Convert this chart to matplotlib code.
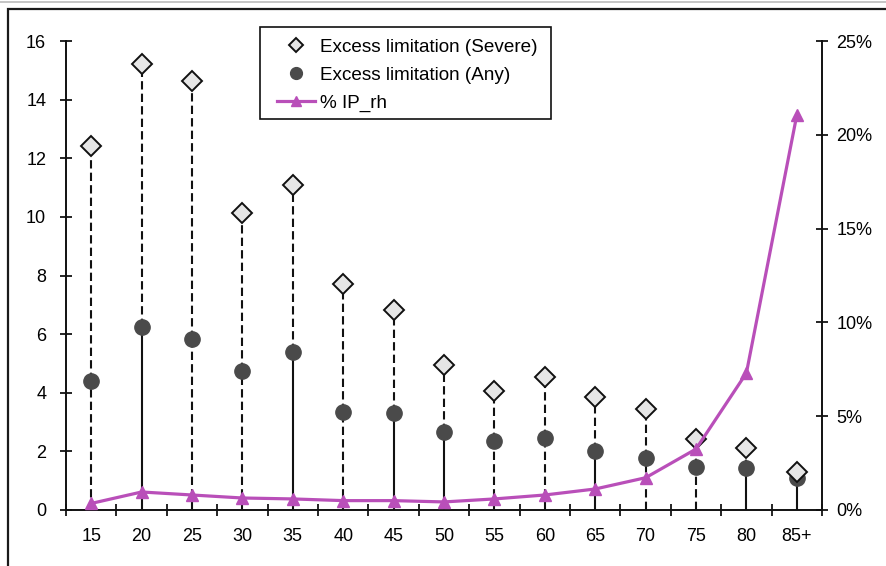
import matplotlib
matplotlib.use('Agg')
import matplotlib.pyplot as plt
from matplotlib.lines import Line2D
from matplotlib.patches import Rectangle
from matplotlib.ticker import FuncFormatter, MultipleLocator
import numpy as np

plt.rcParams['font.family'] = ['Liberation Sans', 'DejaVu Sans']

ages = ['15', '20', '25', '30', '35', '40', '45', '50', '55', '60',
        '65', '70', '75', '80', '85+']
severe = [12.43, 15.22, 14.62, 10.12, 11.09, 7.71, 6.83, 4.95, 4.06, 4.54,
          3.86, 3.45, 2.42, 2.12, 1.30]
any_lim = [4.40, 6.25, 5.84, 4.74, 5.39, 3.34, 3.31, 2.66, 2.35, 2.46,
           2.01, 1.77, 1.47, 1.43, 1.09]
ip_rh = [0.35, 0.96, 0.80, 0.64, 0.59, 0.50, 0.50, 0.43, 0.59, 0.80,
         1.12, 1.72, 3.25, 7.30, 21.05]
# lower stem drawn solid (True) or dashed (False), as in the original
lower_solid = [False, True, False, False, True, False, True, True, False, False,
               True, False, False, True, True]

purple = '#B94FB9'
x = np.arange(len(ages))

fig = plt.figure(figsize=(8.86, 5.66), dpi=100)
ax = fig.add_axes([66/886, 56/566, (822-66)/886, (510-41)/566])
ax2 = ax.twinx()

dash = (0, (4, 2))
for i in x:
    ax.plot([i, i], [any_lim[i], severe[i]], color='#111111', lw=1.5,
            linestyle=dash, zorder=2)
    ax.plot([i, i], [0, any_lim[i]], color='#111111', lw=1.5,
            linestyle='-' if lower_solid[i] else dash, zorder=2)

ax.plot(x, any_lim, 'o', color='#4a4a4a', ms=11, zorder=3, clip_on=False)
ax.plot(x, severe, 'D', mfc='#e6e6e6', mec='#111111', mew=1.4, ms=10, zorder=4,
        clip_on=False)

ax2.plot(x, ip_rh, color=purple, lw=2.3, marker='^', ms=8.5, zorder=5, clip_on=False)

ax.set_xlim(-0.5, len(ages) - 0.5)
ax.set_ylim(0, 16)
ax2.set_ylim(0, 25)

ax.set_yticks(range(0, 17, 2))
ax2.set_yticks(range(0, 26, 5))
ax2.yaxis.set_major_formatter(FuncFormatter(lambda v, p: '%d%%' % v))

ax.set_xticks(x)
ax.set_xticklabels(ages)
ax.xaxis.set_minor_locator(MultipleLocator(1, offset=0.5))
ax.tick_params(axis='x', which='major', length=0, pad=13, labelsize=13)
ax.tick_params(axis='x', which='minor', direction='inout', length=8.5, width=1.2)
ax.tick_params(axis='y', direction='inout', length=8.5, width=1.2, pad=10, labelsize=13)
ax2.tick_params(axis='y', direction='inout', length=8.5, width=1.2, pad=6, labelsize=13)

for a in (ax, ax2):
    a.spines['top'].set_visible(False)
    for s in a.spines.values():
        s.set_linewidth(1.2)
        s.set_color('#111111')

handles = [
    Line2D([], [], linestyle='none', marker='D', mfc='#e6e6e6', mec='#111111', mew=1.4, ms=7.5),
    Line2D([], [], linestyle='none', marker='o', color='#4a4a4a', ms=8.5),
    Line2D([], [], color=purple, lw=2.3, marker='^', ms=6.5),
]
labels = ['Excess limitation (Severe)', 'Excess limitation (Any)', '% IP_rh']
leg = fig.legend(handles, labels, loc='upper left', bbox_to_anchor=(277/886, 1 - 38.5/566),
                 bbox_transform=fig.transFigure, fontsize=13.6, frameon=False,
                 borderaxespad=0, borderpad=0, handlelength=2.0, handletextpad=0.27,
                 labelspacing=0.58)
# legend box
fig.patches.append(Rectangle((260/886, 1 - 119/566), (551-260)/886, (119-27)/566,
                             transform=fig.transFigure, fill=False,
                             edgecolor='#111111', lw=1.2))

# outer chart frame
fig.patches.append(Rectangle((7.5/886, -0.1), 1.2, 1.1 - 9.5/566, transform=fig.transFigure,
                             fill=False, edgecolor='#1a1a1a', lw=1.6, clip_on=False))
fig.lines.append(Line2D([0, 1], [1 - 1.5/566, 1 - 1.5/566], transform=fig.transFigure,
                        color='#bbbbbb', lw=1.2))

fig.savefig('out.png', dpi=100)
